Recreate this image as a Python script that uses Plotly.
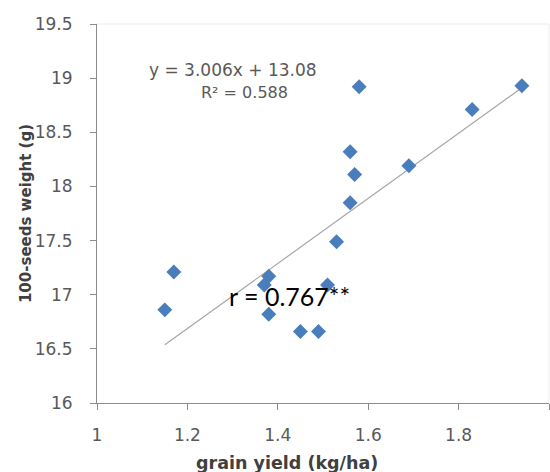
import plotly.graph_objects as go

# Grain yield (kg/ha) vs 100-seed weight (g)
grain_yield = [1.15, 1.17, 1.37, 1.38, 1.38, 1.45, 1.49, 1.51,
               1.53, 1.56, 1.57, 1.56, 1.58, 1.69, 1.83, 1.94]
seed_weight = [16.86, 17.21, 17.09, 17.17, 16.82, 16.66, 16.66, 17.09,
               17.49, 17.85, 18.11, 18.32, 18.92, 18.19, 18.71, 18.93]

# Linear trend line coefficients
slope = 3.006
intercept = 13.08
r_squared = 0.588
r_value = 0.767

x_ticks = [1, 1.2, 1.4, 1.6, 1.8, 2]
y_ticks = [16, 16.5, 17, 17.5, 18, 18.5, 19, 19.5]

trend_x = [min(grain_yield), max(grain_yield)]
trend_y = [slope * v + intercept for v in trend_x]

fig = go.Figure()
fig.add_trace(go.Scatter(
    x=trend_x, y=trend_y, mode="lines",
    line=dict(color="#a6a6a6", width=1.2),
    hoverinfo="skip", showlegend=False,
))
fig.add_trace(go.Scatter(
    x=grain_yield, y=seed_weight, mode="markers",
    marker=dict(symbol="diamond", size=11.5, color="#4a7dbb",
                line=dict(width=0)),
    showlegend=False,
))

tick_font = dict(family="DejaVu Sans", size=17, color="#595959")

fig.update_xaxes(
    range=[1, 2], tickvals=x_ticks, ticktext=[f"{v:g}" for v in x_ticks],
    showgrid=False, zeroline=False,
    showline=True, linecolor="#8c8c8c", linewidth=1,
    ticks="outside", ticklen=6, tickcolor="#8c8c8c",
    tickfont=tick_font, ticklabelstandoff=11,
)
fig.update_yaxes(
    range=[16, 19.5], tickvals=y_ticks, ticktext=[f"{v:g}" for v in y_ticks],
    showgrid=False, zeroline=False,
    showline=True, linecolor="#8c8c8c", linewidth=1,
    ticks="outside", ticklen=6, tickcolor="#8c8c8c",
    tickfont=tick_font, ticklabelstandoff=14,
)

# faint plot-area border on the top and right
fig.add_shape(type="line", xref="paper", yref="paper", x0=0, x1=1, y0=1, y1=1,
              line=dict(color="#ececec", width=1))
fig.add_shape(type="line", xref="paper", yref="paper", x0=1, x1=1, y0=0, y1=1,
              line=dict(color="#ececec", width=1))

annotations = [
    dict(x=1.301, y=19.075, xref="x", yref="y",
         text=f"y = {slope:.3f}x + {intercept:.2f}",
         font=dict(family="DejaVu Sans", size=17, color="#595959"),
         showarrow=False),
    dict(x=1.327, y=18.87, xref="x", yref="y",
         text=f"R² = {r_squared:.3f}",
         font=dict(family="DejaVu Sans", size=16, color="#595959"),
         showarrow=False),
    dict(x=1.425, y=16.99, xref="x", yref="y",
         text=f"r = {r_value:.3f}**",
         font=dict(family="Lato", size=25, color="#000000"),
         showarrow=False),
    dict(x=0.42, y=-0.158, xref="paper", yref="paper",
         text="<b>grain yield (kg/ha)</b>",
         font=dict(family="DejaVu Sans", size=17.5, color="#404040"),
         showarrow=False, yanchor="middle"),
    dict(x=-0.158, y=0.5, xref="paper", yref="paper",
         text="<b>100-seeds weight (g)</b>", textangle=-90,
         font=dict(family="DejaVu Sans", size=15, color="#404040"),
         showarrow=False, xanchor="center"),
]
fig.update_layout(
    width=550, height=472,
    margin=dict(l=97, r=1, t=24, b=69),
    plot_bgcolor="white", paper_bgcolor="white",
    annotations=annotations,
)

fig.write_html("out.html")
